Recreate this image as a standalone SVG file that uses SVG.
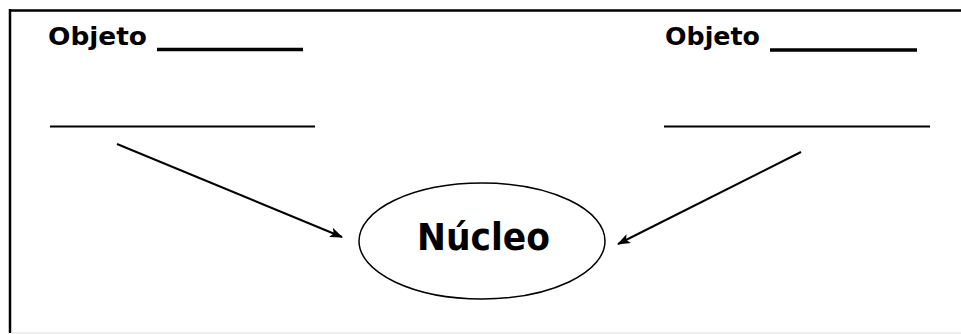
<svg xmlns="http://www.w3.org/2000/svg" width="961" height="334" viewBox="0 0 961 334">
<style>
.lbl{font-family:"DejaVu Sans","Liberation Sans",sans-serif;font-weight:bold;fill:#000}
.blank{stroke:#000;stroke-width:2;fill:none}
.conn{stroke:#000;stroke-width:2;fill:none}
</style>
<defs>
<marker id="ah" markerWidth="13" markerHeight="10" refX="12" refY="5" orient="auto" markerUnits="userSpaceOnUse">
<path d="M0,0 L13,5 L0,10 L3,5 Z" fill="#000"/>
</marker>
</defs>
<rect width="961" height="334" fill="#fff"/>
<g id="frame">
<line x1="10" y1="10.5" x2="961" y2="10.5" stroke="#000" stroke-width="2.5"/>
<line x1="10" y1="9" x2="10" y2="333" stroke="#000" stroke-width="2.5"/>
<line x1="11" y1="333" x2="961" y2="333" stroke="#e8e8e8" stroke-width="1.5"/>
</g>
<g id="objeto-left">
<text class="lbl" x="48" y="45" font-size="25" textLength="99" lengthAdjust="spacingAndGlyphs">Objeto</text>
<line x1="157" y1="49.5" x2="303" y2="49.5" stroke="#000" stroke-width="3.5"/>
<line class="blank" x1="50" y1="126.5" x2="315" y2="126.5"/>
</g>
<g id="objeto-right">
<text class="lbl" x="665" y="45" font-size="25" textLength="95" lengthAdjust="spacingAndGlyphs">Objeto</text>
<line x1="770" y1="50" x2="917" y2="50" stroke="#000" stroke-width="3.5"/>
<line class="blank" x1="664" y1="126.5" x2="930" y2="126.5"/>
</g>
<g id="nucleo">
<ellipse cx="482" cy="241" rx="123" ry="58" fill="#fff" stroke="#000" stroke-width="1.5"/>
<text class="lbl" x="417" y="250" font-size="37" textLength="133" lengthAdjust="spacingAndGlyphs">Núcleo</text>
</g>
<g id="connectors">
<line class="conn" x1="117" y1="144" x2="342" y2="237" marker-end="url(#ah)"/>
<line class="conn" x1="801" y1="152" x2="618" y2="244" marker-end="url(#ah)"/>
</g>
</svg>
